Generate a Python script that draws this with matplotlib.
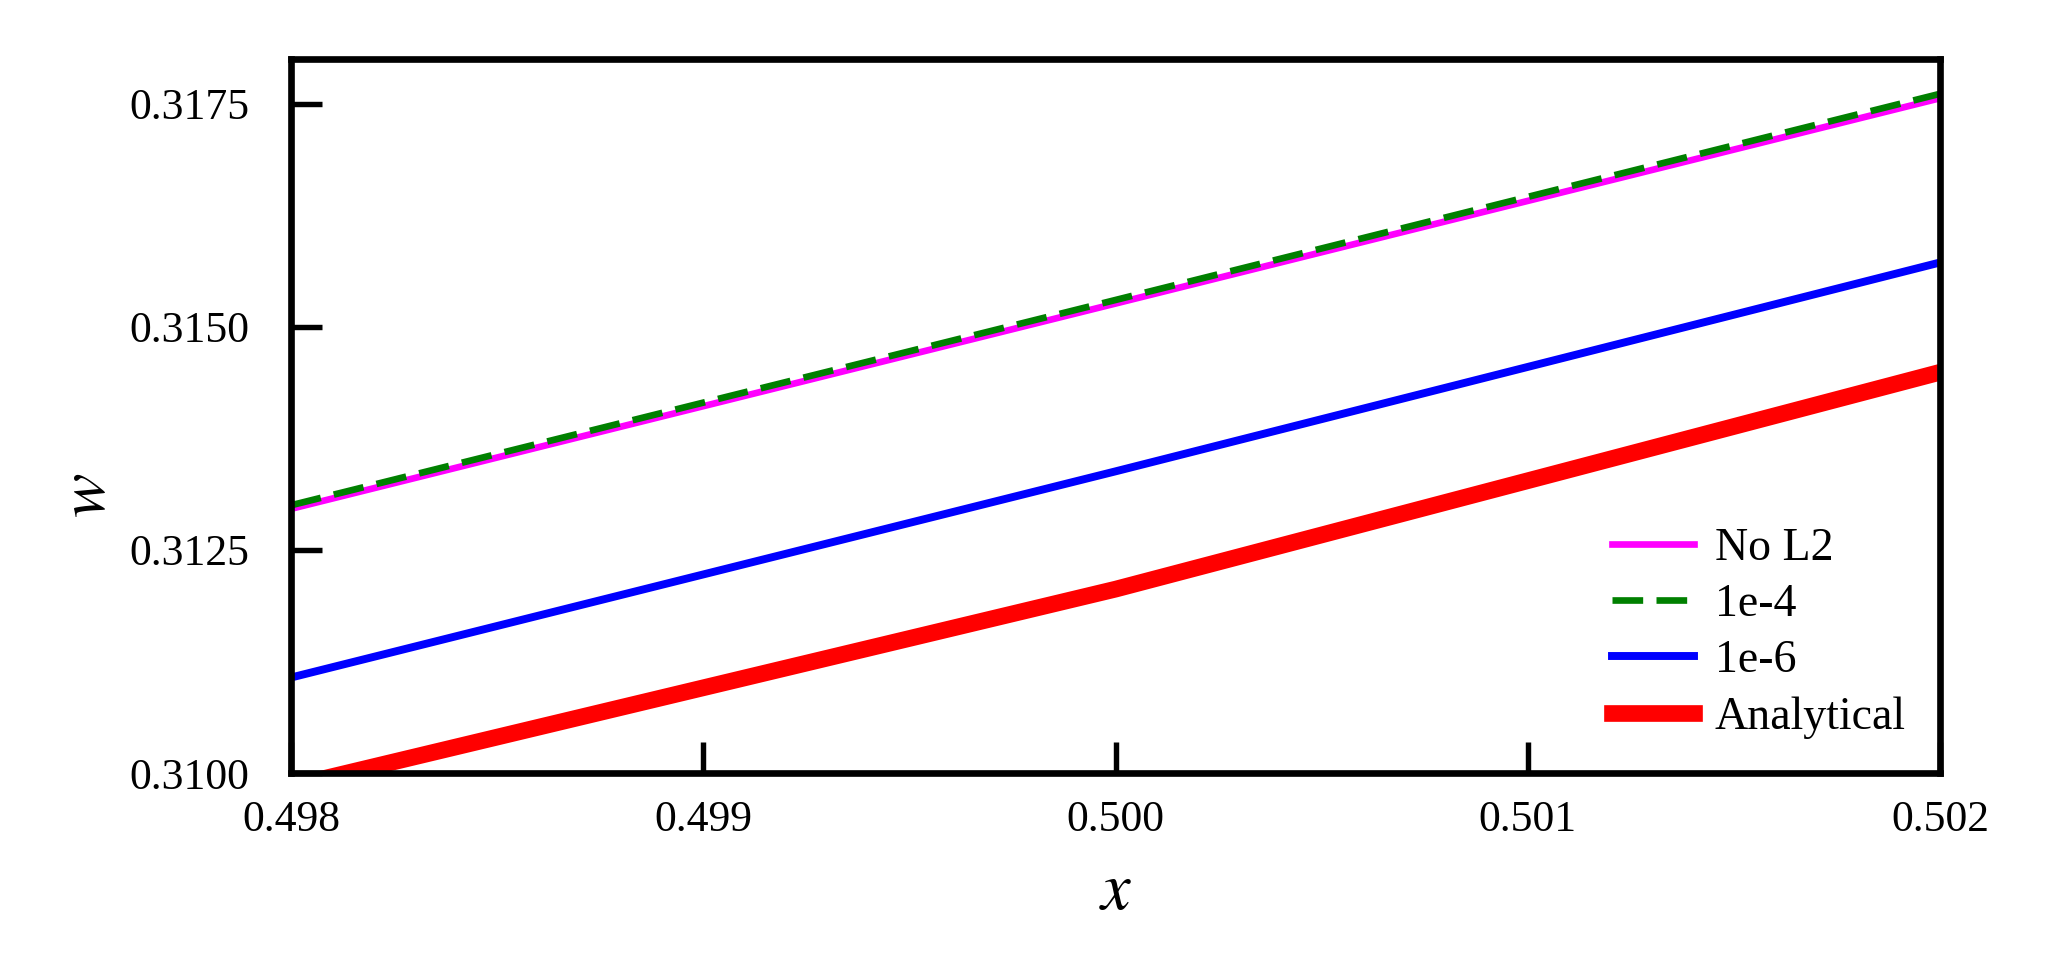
import matplotlib
matplotlib.use("Agg")
import matplotlib.pyplot as plt

x_pts = [0.498, 0.500, 0.502]
no_l2 = [0.31296, 0.31526, 0.31756]
l2_1e4 = [0.31300, 0.31530, 0.31761]
l2_1e6 = [0.31107, 0.31338, 0.31572]
analytical = [0.30985, 0.31206, 0.31449]

xticks = [0.498, 0.499, 0.500, 0.501, 0.502]
yticks = [0.3100, 0.3125, 0.3150, 0.3175]

plt.rcParams['font.family'] = ['Liberation Serif', 'DejaVu Serif']
plt.rcParams['mathtext.fontset'] = 'stix'

fig = plt.figure(figsize=(2054/300, 980/300), dpi=300)
ax = fig.add_axes([0.1417, 0.2112, 0.9445-0.1417, 0.9398-0.2112])

ax.plot(x_pts, no_l2, color='#ff00ff', lw=1.6, label='No L2')
ax.plot(x_pts, l2_1e4, color='green', lw=1.6, dashes=(4.6, 2.0), label='1e-4')
ax.plot(x_pts, l2_1e6, color='blue', lw=1.9, label='1e-6')
ax.plot(x_pts, analytical, color='red', lw=4.0, label='Analytical')

ax.set_xlim(0.498, 0.502)
ax.set_ylim(0.3100, 0.3180)
ax.set_xticks(xticks)
ax.set_xticklabels([f"{v:.3f}" for v in xticks])
ax.set_yticks(yticks)
ax.set_yticklabels([f"{v:.4f}" for v in yticks])

ax.tick_params(direction='in', length=7.5, width=1.3, labelsize=10.5)
ax.tick_params(axis='x', pad=6.5)
ax.tick_params(axis='y', pad=10)
for s in ax.spines.values():
    s.set_linewidth(1.6)

ax.set_xlabel('$x$', fontsize=16, va='center')
ax.xaxis.set_label_coords(0.5, -0.168)
ax.set_ylabel('$w$', fontsize=16, va='center')
ax.yaxis.set_label_coords(-0.123, 0.389)

leg = ax.legend(loc='lower right', frameon=False, fontsize=11, handlelength=1.8,
                handletextpad=0.45, labelspacing=0.3, borderaxespad=0.35)

fig.savefig('out.png', dpi=300)
